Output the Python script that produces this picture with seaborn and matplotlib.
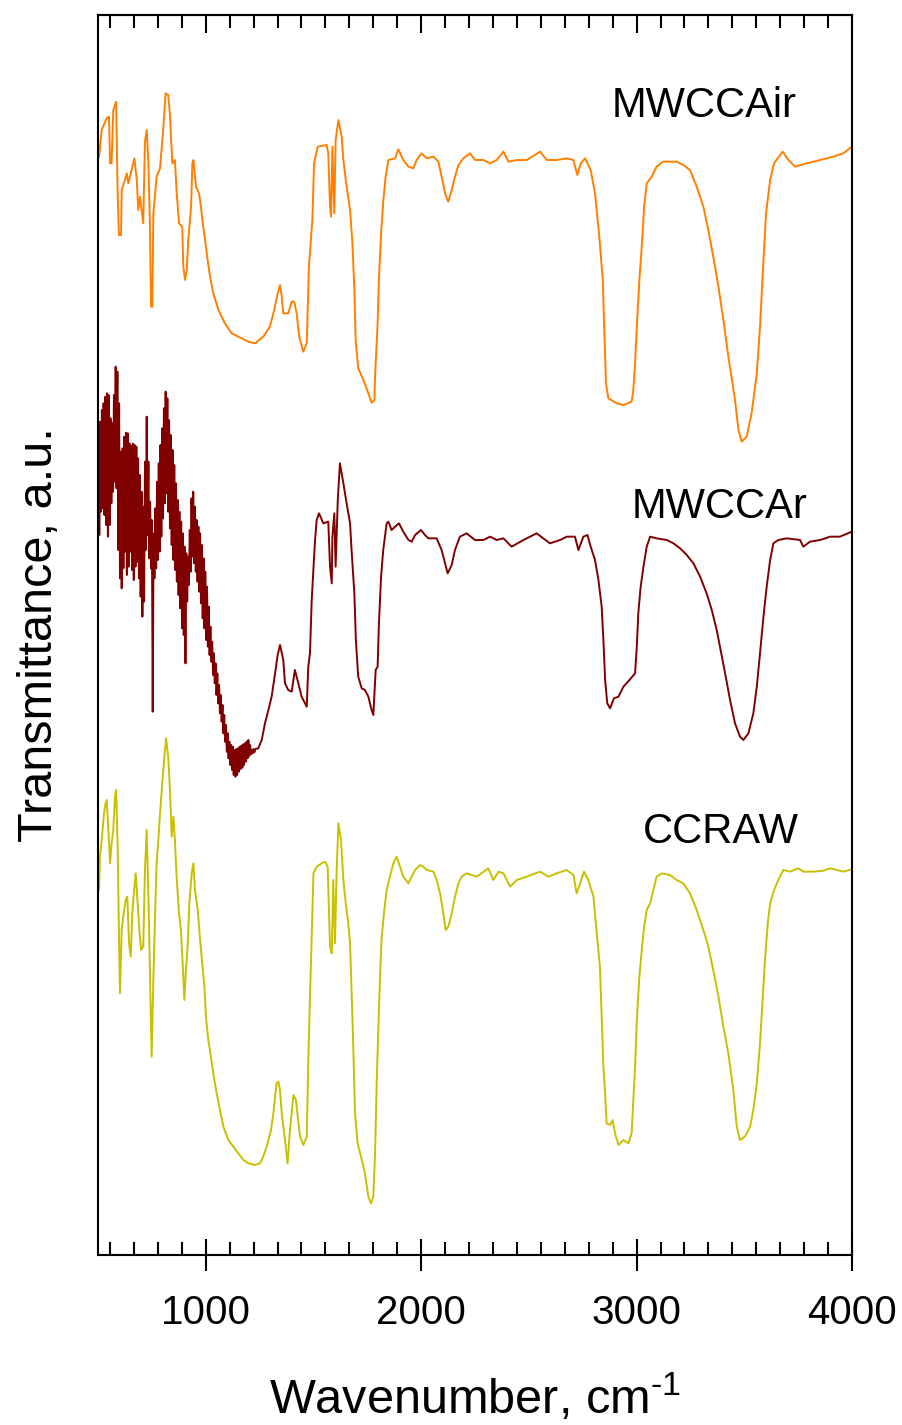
import numpy as np
import pandas as pd
import matplotlib
matplotlib.use("Agg")
import matplotlib.pyplot as plt
from matplotlib.ticker import FixedLocator, AutoMinorLocator, NullFormatter
import seaborn as sns

# ---------------- data (wavenumber in cm-1, transmittance in a.u., stacked) ----------------
mwccair_wn = [505, 517, 540, 551, 556, 563, 571, 584, 591, 597, 607, 610, 625, 633, 641, 669, 680, 687,
              695, 710, 718, 726, 734, 741, 746, 752, 757, 772, 788, 803, 814, 826, 834, 845, 857, 865,
              876, 891, 896, 904, 912, 919, 932, 938, 943, 955, 969, 978, 986, 997, 1009, 1020, 1035,
              1059, 1089, 1120, 1167, 1198, 1229, 1267, 1298, 1318, 1334, 1345, 1353, 1360, 1383, 1399,
              1411, 1422, 1434, 1453, 1469, 1479, 1495, 1503, 1520, 1561, 1569, 1577, 1582, 1588, 1597,
              1603, 1616, 1631, 1639, 1650, 1670, 1681, 1690, 1696, 1708, 1732, 1755, 1770, 1783, 1786,
              1798, 1804, 1814, 1824, 1835, 1848, 1879, 1894, 1917, 1941, 1964, 1979, 2002, 2026, 2057,
              2080, 2095, 2111, 2126, 2142, 2157, 2173, 2196, 2227, 2250,
              2289, 2320, 2351, 2382, 2405, 2444, 2490, 2552, 2583, 2629, 2676, 2707, 2725, 2741, 2761,
              2787, 2807, 2827, 2843, 2851, 2858, 2869, 2908, 2939, 2977, 2985, 2993, 3001, 3013, 3024,
              3035, 3047, 3070, 3093, 3124, 3186, 3217, 3248, 3279, 3310, 3333, 3356, 3380, 3403, 3426,
              3457, 3473, 3488, 3511, 3534, 3558, 3573, 3589, 3601, 3620, 3638, 3678, 3705, 3736, 3790,
              3852, 3913, 3960, 3999]
mwccair_t = [3295, 3375, 3410, 3415, 3275, 3275, 3435, 3460, 3195, 3060, 3060, 3195, 3225, 3245, 3215,
             3290, 3225, 3135, 3175, 3095, 3340, 3375, 3275, 3090, 2845, 2845, 3125, 3235, 3260, 3380,
             3485, 3480, 3420, 3275, 3285, 3190, 3095, 3085, 2965, 2925, 2955, 3045, 3145, 3275, 3285,
             3205, 3185, 3145, 3095, 3045, 2985, 2935, 2885, 2835, 2795, 2765, 2750, 2740, 2735, 2755,
             2785, 2835, 2885, 2910, 2875, 2825, 2825, 2860, 2860, 2825, 2755, 2710, 2735, 2965, 3105,
             3275, 3325, 3330, 3305, 3145, 3115, 3325, 3125, 3345, 3405, 3355, 3285, 3225, 3135, 3035,
             2895, 2745, 2660, 2625, 2585, 2557, 2565, 2635, 2795, 2930, 3065, 3160, 3235, 3285, 3290,
             3317, 3285, 3265, 3260, 3285, 3305, 3290, 3295, 3280, 3235, 3185, 3160, 3195, 3235, 3270,
             3290, 3305, 3285,
             3285, 3275, 3285, 3310, 3280, 3285, 3285, 3310, 3285, 3285, 3290, 3285, 3240, 3275, 3290,
             3255, 3185, 3055, 2925, 2755, 2615, 2570, 2555, 2550, 2560, 2595, 2675, 2785, 2925, 3025,
             3145, 3215, 3235, 3265, 3280, 3280, 3270, 3255, 3205, 3145, 3075, 2995, 2905, 2805, 2695,
             2565, 2475, 2440, 2455, 2525, 2645, 2785, 2985, 3125, 3225, 3275, 3310, 3285, 3265, 3275,
             3285, 3295, 3305, 3325]

# MWCCAr: very noisy below ~1240 cm-1, read as alternating extremes of the noise band
mwccar_wn = [502, 506, 510, 514, 518, 522, 526, 530, 534, 538, 542, 546, 550, 554, 558, 562, 566, 570,
             574, 578, 582, 586, 590, 594, 598, 602, 606, 610, 614, 618, 622, 626, 630, 634, 638, 642,
             646, 650, 654, 658, 662, 666, 670, 674, 678, 682, 686, 690, 694, 698, 702, 706, 710, 714,
             718, 722, 726, 730, 734, 738, 742, 746, 750, 754, 758, 762, 766, 770, 774, 778, 782, 786,
             790, 794, 798, 802, 806, 810, 814, 818, 822, 826, 830, 834, 838, 842, 846, 850, 854, 858,
             862, 866, 870, 874, 878, 882, 886, 890, 894, 898, 902, 906, 910, 914, 918, 922, 926, 930,
             934, 938, 942, 946, 950, 954, 958, 962, 966, 970, 974, 978, 982, 986, 990, 994, 998, 1002,
             1006, 1010, 1014, 1018, 1022, 1026, 1030, 1034, 1038, 1042, 1046, 1050, 1054, 1058, 1062,
             1066, 1070, 1074, 1078, 1082, 1086, 1090, 1094, 1098, 1102, 1106, 1110, 1114, 1118, 1122,
             1126, 1130, 1134, 1138, 1142, 1146, 1150, 1154, 1158, 1162, 1166, 1170, 1174, 1178, 1182,
             1186, 1190, 1194, 1198, 1202, 1206, 1210, 1214, 1218, 1222, 1226, 1230, 1244,
             1260, 1275, 1291, 1306, 1322, 1334, 1345, 1360, 1368, 1383, 1399, 1414, 1430, 1445, 1469,
             1476, 1484, 1492, 1507, 1515, 1526, 1546, 1569, 1577, 1585, 1588, 1597, 1603, 1613, 1623,
             1639, 1654, 1670, 1677, 1690, 1697, 1708, 1724, 1739, 1755, 1770, 1778, 1789, 1798, 1804,
             1814, 1824, 1832, 1840, 1848, 1863, 1879, 1897, 1917, 1941, 1956, 1972, 1999, 2018, 2033,
             2072, 2095, 2111, 2123, 2142, 2157, 2180, 2211, 2250,
             2289, 2320, 2351, 2382, 2420, 2475, 2536, 2598, 2645, 2676, 2714, 2730, 2753, 2772, 2787,
             2807, 2823, 2838, 2846, 2854, 2864, 2877, 2895, 2916, 2939, 2967, 2993, 3001, 3008, 3019,
             3032, 3047, 3063, 3093, 3140, 3171, 3202, 3233, 3264, 3295, 3325, 3349, 3372, 3390, 3411,
             3434, 3457, 3480, 3496, 3519, 3542, 3558, 3573, 3589, 3604, 3620, 3635, 3658, 3697, 3759,
             3774, 3805, 3852, 3898, 3944, 3999]
mwccar_t = [2460, 2160, 2500, 2230, 2535, 2240, 2555, 2220, 2575, 2190, 2585, 2155, 2580, 2190, 2510,
            2255, 2495, 2290, 2580, 2320, 2665, 2300, 2650, 2115, 2555, 2030, 2410, 2000, 2420, 2060,
            2455, 2110, 2467, 2040, 2465, 2065, 2435, 2110, 2428, 2055, 2434, 2025, 2430, 2065, 2425,
            2080, 2390, 2030, 2340, 1975, 2290, 1915, 2245, 1960, 2380, 2115, 2515, 2160, 2380, 2090,
            2260, 2060, 2205, 1630, 2165, 2030, 2240, 2060, 2320, 2085, 2375, 2110, 2430, 2155, 2480,
            2210, 2540, 2255, 2590, 2285, 2570, 2230, 2505, 2180, 2460, 2130, 2415, 2085, 2370, 2055,
            2315, 2020, 2265, 1980, 2230, 1940, 2200, 1880, 2165, 1860, 2125, 1775, 2105, 1960, 2095,
            2010, 2175, 2050, 2270, 2095, 2290, 2075, 2245, 2050, 2205, 2020, 2185, 1990, 2165, 1955,
            2130, 1910, 2090, 1880, 2050, 1845, 2005, 1825, 1945, 1800, 1885, 1780, 1840, 1740, 1805,
            1715, 1775, 1680, 1745, 1655, 1710, 1625, 1680, 1600, 1650, 1565, 1620, 1540, 1590, 1510,
            1565, 1490, 1540, 1470, 1530, 1455, 1525, 1440, 1515, 1435, 1518, 1440, 1520, 1450, 1525,
            1458, 1528, 1462, 1532, 1470, 1535, 1480, 1540, 1490, 1545, 1497, 1530, 1502, 1515, 1505,
            1518, 1508, 1518, 1520,
            1545, 1595, 1635, 1675, 1745, 1800, 1830, 1785, 1715, 1695, 1690, 1755, 1715, 1675, 1645,
            1765, 1805, 1965, 2140, 2205, 2225, 2195, 2200, 2065, 2015, 2155, 2225, 2065, 2265, 2375,
            2315, 2255, 2195, 2115, 1985, 1845, 1735, 1700, 1695, 1675, 1635, 1620, 1755, 1765, 1895,
            2035, 2115, 2155, 2195, 2200, 2175, 2185, 2195, 2170, 2145, 2140, 2160, 2175, 2160, 2150,
            2150, 2115, 2075, 2045, 2070, 2115, 2155, 2165, 2145,
            2145, 2155, 2145, 2150, 2125, 2145, 2165, 2135, 2145, 2155, 2155, 2115, 2155, 2160, 2125,
            2085, 2025, 1945, 1845, 1725, 1655, 1640, 1670, 1675, 1705, 1725, 1745, 1825, 1925, 2005,
            2065, 2125, 2155, 2150, 2145, 2135, 2120, 2100, 2075, 2035, 1985, 1935, 1875, 1815, 1745,
            1665, 1595, 1555, 1545, 1565, 1625, 1705, 1805, 1915, 2005, 2085, 2135, 2145, 2150, 2145,
            2125, 2140, 2145, 2155, 2155, 2170]

ccraw_wn = [505, 509, 517, 525, 532, 540, 548, 556, 563, 571, 579, 584, 591, 597, 602, 610, 617, 628,
            636, 644, 652, 659, 669, 675, 684, 692, 700, 710, 718, 726, 734, 741, 749, 757, 765, 772,
            780, 788, 796, 803, 811, 816, 826, 834, 842, 850, 857, 865, 876, 885, 893, 901, 908, 916,
            924, 935, 943, 950, 963, 974, 981, 994, 1001, 1012, 1024, 1035, 1051, 1066, 1082, 1105,
            1128, 1151, 1175, 1198, 1229, 1252, 1267, 1283, 1303, 1314, 1322, 1329, 1337, 1345, 1353,
            1368, 1380, 1391, 1399, 1407, 1419, 1427, 1438, 1453, 1469, 1476, 1484, 1492, 1500, 1515,
            1538, 1554, 1566, 1577, 1585, 1592, 1600, 1608, 1616, 1628, 1639, 1650, 1662, 1670, 1677,
            1685, 1693, 1705, 1721, 1739, 1755, 1767, 1778, 1786, 1794, 1801, 1809, 1817, 1829, 1840,
            1855, 1871, 1886, 1902, 1917, 1941, 1956, 1972, 1995, 2010, 2026, 2057, 2072, 2088, 2103,
            2114, 2126, 2142, 2157, 2173, 2188, 2211, 2235, 2258,
            2312, 2335, 2359, 2382, 2413, 2444, 2490, 2552, 2591, 2629, 2676, 2707, 2722, 2738, 2756,
            2776, 2800, 2815, 2830, 2838, 2846, 2854, 2861, 2877, 2889, 2900, 2916, 2939, 2962, 2977,
            2985, 2993, 3001, 3013, 3024, 3035, 3047, 3063, 3078, 3093, 3117, 3155, 3186, 3217, 3248,
            3279, 3310, 3333, 3356, 3380, 3403, 3426, 3449, 3465, 3480, 3503, 3527, 3542, 3558, 3573,
            3585, 3596, 3609, 3620, 3638, 3658, 3681, 3712, 3751, 3774, 3821, 3867, 3898, 3929, 3960,
            3999]
ccraw_t = [1095, 1195, 1245, 1305, 1345, 1365, 1275, 1175, 1235, 1275, 1375, 1395, 1235, 975, 785, 975,
           1015, 1065, 1075, 935, 895, 1025, 1105, 1145, 1055, 975, 915, 925, 1155, 1275, 1075, 855,
           595, 825, 1025, 1175, 1245, 1325, 1395, 1455, 1515, 1550, 1495, 1395, 1255, 1315, 1245, 1135,
           1025, 975, 875, 765, 855, 925, 1055, 1145, 1175, 1095, 1035, 945, 895, 805, 715, 645, 595,
           545, 485, 435, 385, 345, 325, 305, 285, 275, 270, 275, 295, 325, 375, 425, 475, 515, 520,
           495, 425, 345, 275, 375, 425, 480, 465, 415, 355, 330, 355, 575, 775, 955, 1145, 1165, 1175,
           1180, 1165, 925, 905, 1125, 935, 1155, 1295, 1245, 1125, 1055, 995, 935, 795, 625, 425, 335,
           295, 245, 175, 155, 175, 305, 525, 675, 835, 955, 1035, 1095, 1135, 1175, 1195, 1165, 1135,
           1115, 1135, 1155, 1170, 1165, 1155, 1150, 1125, 1085, 1025, 975, 985, 1025, 1075, 1115, 1135,
           1145, 1140, 1135,
           1160, 1125, 1150, 1145, 1105, 1125, 1135, 1150, 1135, 1145, 1155, 1140, 1085, 1115, 1150,
           1125, 1075, 965, 865, 715, 565, 485, 395, 390, 405, 365, 330, 345, 335, 365, 465, 565, 705,
           835, 915, 985, 1035, 1055, 1095, 1135, 1145, 1140, 1125, 1115, 1085, 1035, 975, 925, 855,
           775, 685, 605, 495, 385, 345, 355, 385, 435, 515, 635, 765, 885, 995, 1055, 1095, 1125, 1155,
           1150, 1160, 1150, 1150, 1153, 1160, 1155, 1150, 1157]

series_names = ["MWCCAir", "MWCCAr", "CCRAW"]
series_colors = ["#FF8000", "#800000", "#C8C000"]
label_pos = [(3313, 3414), (3383, 2211), (3390, 1236)]
major_ticks = [1000, 2000, 3000, 4000]

# ---------------- figure ----------------
sns.set_style("ticks")
plt.rcParams["font.family"] = ["Liberation Sans", "DejaVu Sans"]
plt.rcParams["mathtext.fontset"] = "custom"
plt.rcParams["mathtext.rm"] = "Liberation Sans"
plt.rcParams["mathtext.it"] = "Liberation Sans"
plt.rcParams["path.simplify"] = False
plt.rcParams["text.color"] = "black"
plt.rcParams["axes.labelcolor"] = "black"
plt.rcParams["xtick.color"] = "black"
plt.rcParams["xtick.labelcolor"] = "black"

fig = plt.figure(figsize=(9.03, 14.25), dpi=100)
ax = fig.add_axes([98 / 903, 1 - 1255 / 1425, (852 - 98) / 903, (1255 - 15) / 1425])

data = [(mwccair_wn, mwccair_t), (mwccar_wn, mwccar_t), (ccraw_wn, ccraw_t)]
for (wn, t), name, col in zip(data, series_names, series_colors):
    df = pd.DataFrame({"wn": wn, "t": t})
    sns.lineplot(data=df, x="wn", y="t", color=col, linewidth=1.4, sort=False,
                 estimator=None, ax=ax, legend=False)

for name, (x, y) in zip(series_names, label_pos):
    ax.text(x, y, name, fontsize=30, ha="center", va="baseline", color="black")

ax.set_xlim(500, 4000)
ax.set_ylim(0, 3720)
ax.set_yticks([])
ax.xaxis.set_major_locator(FixedLocator(major_ticks))
ax.xaxis.set_minor_locator(AutoMinorLocator(9))
ax.tick_params(axis="x", which="major", direction="inout", length=22.5, width=1.5,
               labelsize=29, pad=17, color="black", labelcolor="black")
ax.tick_params(axis="x", which="minor", direction="in", length=9.5, width=1.5, color="black")
for sp in ax.spines.values():
    sp.set_visible(True)
    sp.set_linewidth(1.5)
    sp.set_color("black")

top = ax.secondary_xaxis("top")
top.xaxis.set_major_locator(FixedLocator(major_ticks))
top.xaxis.set_minor_locator(AutoMinorLocator(9))
top.xaxis.set_major_formatter(NullFormatter())
top.tick_params(axis="x", which="major", direction="in", length=13, width=1.5, color="black")
top.tick_params(axis="x", which="minor", direction="in", length=9.5, width=1.5, color="black")
top.spines["top"].set_linewidth(1.5)

ax.set_xlabel("Wavenumber, cm$^{\u2010\\mathregular{1}}$", fontsize=35, color="black")
ax.xaxis.set_label_coords(0.5, -0.095)
ax.xaxis.label.set_va("top")
ax.set_ylabel("Transmittance, a.u.", fontsize=35, labelpad=26, color="black")

fig.savefig("out.png", dpi=100)
